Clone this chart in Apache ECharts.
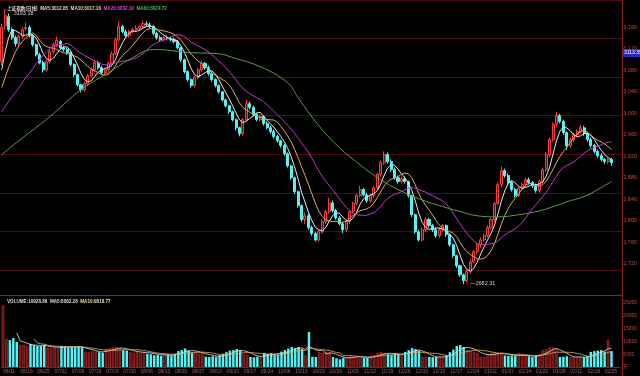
<!DOCTYPE html>
<html><head><meta charset="utf-8">
<script src="https://cdn.jsdelivr.net/npm/echarts/dist/echarts.min.js"></script>
<style>html,body{margin:0;padding:0;background:#000;}#c{width:640px;height:376px;}</style>
</head><body><div id="c"></div>
<script>
const opens = [3096,3164,3180,3156,3141,3130,3143,3158,3160,3145,3128,3109,3094,3081,3096,3115,3128,3134,3122,3119,
3113,3091,3072,3053,3044,3055,3070,3081,3094,3085,3076,3081,3093,3111,3137,3162,3152,3145,3152,3156,
3158,3162,3167,3165,3162,3149,3141,3137,3141,3139,3137,3134,3122,3100,3078,3063,3052,3067,3081,3093,
3085,3074,3063,3052,3040,3025,3014,3003,2988,2973,2962,2988,3018,3011,2998,2988,2994,2981,2973,2966,
2957,2949,2940,2925,2902,2880,2854,2828,2802,2809,2787,2776,2764,2779,2798,2817,2833,2819,2805,2794,
2783,2798,2817,2832,2847,2858,2848,2837,2847,2861,2886,2908,2923,2910,2895,2880,2873,2878,2873,2847,
2811,2779,2764,2783,2802,2791,2783,2772,2783,2791,2774,2755,2735,2716,2699,2688,2705,2723,2742,2755,
2764,2772,2787,2802,2832,2867,2893,2884,2871,2858,2847,2860,2867,2876,2871,2865,2856,2873,2895,2923,
2951,2979,2996,2985,2964,2940,2951,2960,2966,2973,2962,2951,2940,2929,2921,2914,2910,2914];
const closes = [3160,3182,3156,3141,3130,3143,3156,3160,3145,3128,3109,3094,3081,3096,3115,3128,3136,3122,3119,3113,
3091,3072,3053,3044,3055,3070,3081,3094,3085,3076,3081,3093,3111,3137,3162,3152,3145,3152,3156,3158,
3162,3167,3165,3162,3149,3141,3137,3141,3139,3137,3134,3122,3100,3078,3063,3052,3067,3081,3093,3085,
3074,3063,3052,3040,3025,3014,3003,2988,2973,2962,2988,3018,3011,2998,2988,2994,2981,2973,2966,2957,
2949,2940,2925,2902,2880,2854,2828,2802,2809,2787,2776,2764,2779,2798,2817,2833,2819,2805,2794,2783,
2798,2817,2832,2847,2858,2848,2837,2847,2861,2886,2908,2923,2910,2895,2880,2873,2878,2873,2847,2811,
2779,2764,2783,2802,2791,2783,2772,2783,2791,2774,2755,2735,2716,2699,2688,2705,2723,2742,2755,2764,
2772,2787,2802,2832,2867,2893,2884,2871,2858,2847,2860,2867,2876,2871,2865,2856,2873,2895,2923,2951,
2979,2996,2985,2964,2940,2951,2960,2966,2973,2962,2951,2940,2929,2921,2914,2910,2914,2908];
const lows = [3089,3156,3152,3137,3124,3126,3139,3154,3141,3124,3106,3091,3076,3078,3093,3111,3124,3119,3115,3109,
3087,3068,3050,3039,3040,3052,3067,3078,3081,3072,3072,3078,3089,3108,3134,3149,3141,3141,3149,3152,
3154,3158,3162,3158,3145,3137,3134,3134,3136,3134,3130,3119,3096,3074,3059,3048,3048,3063,3078,3081,
3070,3059,3048,3037,3022,3011,2999,2985,2968,2957,2958,2985,3007,2994,2985,2985,2977,2970,2962,2953,
2945,2936,2921,2899,2876,2850,2824,2798,2794,2783,2772,2761,2761,2776,2794,2813,2815,2802,2791,2777,
2779,2794,2813,2828,2843,2845,2833,2833,2843,2858,2882,2904,2906,2891,2876,2869,2869,2869,2843,2807,
2776,2761,2761,2779,2787,2779,2768,2768,2779,2770,2751,2731,2712,2695,2682.31,2684,2701,2720,2738,2749,
2761,2768,2783,2798,2828,2863,2880,2867,2854,2843,2843,2856,2863,2867,2861,2852,2852,2869,2891,2919,
2947,2975,2981,2960,2932,2936,2947,2957,2962,2958,2947,2936,2925,2917,2910,2906,2906,2902];
const highs = [3167,3193.18,3186,3160,3145,3147,3160,3169,3164,3147,3130,3113,3098,3100,3119,3132,3143,3137,3126,3122,
3115,3093,3074,3055,3059,3074,3085,3100,3098,3089,3085,3096,3115,3141,3171,3165,3156,3156,3160,3164,
3165,3173,3171,3169,3164,3152,3145,3145,3145,3143,3141,3137,3124,3102,3080,3065,3070,3085,3098,3096,
3089,3078,3065,3053,3042,3027,3016,3005,2990,2975,2992,3025,3022,3014,3001,2998,2996,2985,2977,2970,
2960,2951,2943,2927,2904,2882,2856,2830,2815,2813,2791,2779,2783,2802,2820,2843,2837,2822,2809,2798,
2802,2820,2835,2850,2865,2861,2852,2850,2865,2889,2912,2929,2927,2914,2899,2884,2882,2882,2874,2848,
2813,2783,2787,2807,2805,2794,2787,2787,2794,2793,2776,2757,2736,2718,2701,2708,2727,2746,2759,2768,
2776,2791,2805,2835,2871,2901,2897,2888,2874,2861,2863,2871,2880,2880,2874,2869,2876,2899,2927,2955,
2983,3003,2999,2988,2966,2955,2964,2970,2979,2977,2966,2955,2943,2932,2925,2917,2917,2917];
const volumes = [24000,11000,10500,11300,9800,8600,8600,8200,9000,8600,8200,8200,8600,7400,7400,7800,7400,8200,8000,7800,
8000,7800,8000,7800,6000,5900,6200,6000,5800,5600,7000,7400,7600,7800,7400,6600,6400,5900,5600,5900,
5500,5800,5200,5000,4600,4800,4400,5000,4800,4600,5200,6200,6600,7200,6400,5600,5500,5200,5600,4000,
3900,4200,4000,4600,5200,5800,6400,6600,7000,6600,5200,4800,3900,3800,4000,4200,5500,5200,5500,5000,
4800,6000,6600,7200,7800,7400,7800,7000,4600,13700,4000,3900,5900,5600,6000,5800,3900,3400,3000,3600,
3900,4300,4000,4200,3900,3500,3600,4200,4800,5600,5900,5400,5000,4800,5200,5000,4600,5900,6600,7400,
7000,6400,3900,4000,3900,3800,4000,3900,4000,4600,5800,6800,8200,8600,7800,6600,6200,5900,5500,4000,
3900,5000,5500,5900,5600,5200,4500,4400,4600,4500,4800,4400,4300,4200,4000,4400,5000,6600,7000,7600,
7800,7200,3900,4000,4200,3800,3900,3700,4000,3800,4200,5900,6200,6400,6600,6000,10500,6200];
const ma5Lead = [3081,3115,3141,3156];
const ma10Lead = [3048,3067,3085,3100,3115,3126,3134,3141,3145];
const ma20Lead = [3003,3012,3022,3031,3039,3048,3057,3067,3074,3083,3093,3100,3108,3115,3121,3124,3126,3128,3128];
const ma60Points = [[0,2923],[5,2949],[14,2994],[23,3044],[31,3076],[37,3100],[44,3119],[55,3113],[63,3111],[67,3104],
[75,3087],[83,3057],[86,3029],[92,2977],[98,2936],[104,2904],[110,2876],[115,2858],[121,2841],[127,2828],
[133,2817],[138,2809],[144,2807],[150,2811],[156,2818],[160,2826],[164,2835],[169,2845],[173,2858],[177,2873]];
const tickLabels = ['06/11','06/18','06/25','07/02','07/09','07/16','07/23','07/30','08/06','08/13','08/20','08/27',
'09/03','09/10','09/17','09/24','10/08','10/15','10/22','10/29','11/05','11/12','11/19','11/26',
'12/03','12/10','12/17','12/24','01/02','01/07','01/14','01/21','01/28','02/11','02/18','02/25'];
const SLOTS = 180;
const categories = Array.from({length: SLOTS}, (_, i) => 'D' + i);

function movingAvg(arr, n, lead) {
  return arr.map((v, i) => {
    if (i < n - 1) return lead && lead[i] !== undefined ? lead[i] : '-';
    let s = 0; for (let k = i - n + 1; k <= i; k++) s += arr[k];
    return +(s / n).toFixed(2);
  });
}
const UP_FILL = '#5e1010', UP_LINE = '#ff3c3c', DOWN = '#54f2f2';
const candleData = opens.map((o, i) => [o, closes[i], lows[i], highs[i]]);
const volData = volumes.map((v, i) => ({
  value: v,
  itemStyle: closes[i] >= opens[i] ? {color: UP_FILL, borderColor: '#c83030', borderWidth: 0.6} : {color: DOWN}
}));
const FONT = 'Liberation Sans, Arial, Noto Sans CJK SC, sans-serif';
const chart = echarts.init(document.getElementById('c'));
chart.setOption({
  backgroundColor: '#000',
  animation: false,
  textStyle: {fontFamily: FONT},
  title: [{
    left: 2, top: 1,
    text: '{w|上证指数(日线)  MA5:3012.85}  {y|MA10:3017.16}  {m|MA20:3032.19}  {g|MA60:3024.72}',
    textStyle: {fontSize: 4.6, rich: {
      w: {color: '#dcdcdc', fontSize: 4.6, fontFamily: FONT},
      y: {color: '#e8dca8', fontSize: 4.6, fontFamily: FONT},
      m: {color: '#e040e0', fontSize: 4.6, fontFamily: FONT},
      g: {color: '#44c044', fontSize: 4.6, fontFamily: FONT}
    }}
  }, {
    left: 2, top: 294,
    text: '{w|VOLUME:10928.86  MA5:8082.28}  {y|MA10:9818.77}',
    textStyle: {fontSize: 4.6, rich: {
      w: {color: '#dcdcdc', fontSize: 4.6, fontFamily: FONT},
      y: {color: '#e8dca8', fontSize: 4.6, fontFamily: FONT}
    }}
  }],
  grid: [
    {left: 0, right: 18, top: 6, height: 279},
    {left: 0, right: 18, top: -3, height: 273},
    {left: 0, right: 18, top: 303, height: 64}
  ],
  xAxis: [
    {type: 'category', gridIndex: 0, data: categories, axisLine: {show: false}, axisTick: {show: false}, axisLabel: {show: false}, splitLine: {show: false}},
    {type: 'value', gridIndex: 1, min: 0, max: 1, show: false},
    {type: 'category', gridIndex: 2, data: categories,
      axisLine: {lineStyle: {color: '#8a1c1c'}}, axisTick: {show: false}, splitLine: {show: false},
      axisLabel: {interval: (i) => i % 5 === 0, formatter: (v, i) => tickLabels[i / 5] || '',
        color: '#b85a5a', fontSize: 5, align: 'left', margin: 2}}
  ],
  yAxis: [
    {type: 'value', gridIndex: 0, position: 'right', min: 2680, max: 3200, interval: 40,
      splitLine: {show: false}, axisLine: {show: false}, axisTick: {show: false},
      axisLabel: {color: '#c04848', fontSize: 5.5, margin: 3, showMinLabel: false, showMaxLabel: false}},
    {type: 'value', gridIndex: 1, min: 0, max: 273, interval: 39,
      axisLabel: {show: false}, axisLine: {show: false}, axisTick: {show: false},
      splitLine: {show: true, lineStyle: {color: '#4e0e0e', width: 1}}},
    {type: 'value', gridIndex: 2, position: 'right', min: 0, max: 25000, interval: 5000,
      splitLine: {show: false}, axisLine: {show: false}, axisTick: {show: false},
      axisLabel: {color: '#c04848', fontSize: 5, margin: 3, formatter: (v) => v === 0 ? '万' : String(v)}}
  ],
  series: [
    {type: 'candlestick', name: 'K', xAxisIndex: 0, yAxisIndex: 0, data: candleData, barWidth: '74%',
      itemStyle: {color: UP_FILL, color0: DOWN, borderColor: UP_LINE, borderColor0: DOWN, borderWidth: 1},
      markPoint: {
        symbol: 'circle', symbolSize: 1, itemStyle: {color: '#cccccc'},
        label: {show: true, position: 'right', color: '#d0d0d0', fontSize: 5.5, fontFamily: FONT},
        data: [
          {type: 'max', valueDim: 'highest', label: {formatter: (p) => Number(p.value).toFixed(2), offset: [3, 4]}},
          {type: 'min', valueDim: 'lowest', label: {formatter: (p) => '—' + Number(p.value).toFixed(2), offset: [1, 0]}}
        ]
      }},
    {type: 'line', name: 'MA5', xAxisIndex: 0, yAxisIndex: 0, data: movingAvg(closes, 5, ma5Lead), showSymbol: false, lineStyle: {width: 1, color: '#e8e8e8'}, z: 3},
    {type: 'line', name: 'MA10', xAxisIndex: 0, yAxisIndex: 0, data: movingAvg(closes, 10, ma10Lead), showSymbol: false, lineStyle: {width: 1, color: '#e2a868'}, z: 3},
    {type: 'line', name: 'MA20', xAxisIndex: 0, yAxisIndex: 0, data: movingAvg(closes, 20, ma20Lead), showSymbol: false, lineStyle: {width: 1, color: '#c23cc8'}, z: 3},
    {type: 'line', name: 'MA60', xAxisIndex: 0, yAxisIndex: 0, data: ma60Points, smooth: 0.4, showSymbol: false, lineStyle: {width: 1, color: '#5e9c42'}, z: 3},
    {type: 'bar', name: 'VOL', xAxisIndex: 2, yAxisIndex: 2, data: volData, barWidth: '72%'},
    {type: 'line', name: 'VMA5', xAxisIndex: 2, yAxisIndex: 2, data: movingAvg(volumes, 5), showSymbol: false, lineStyle: {width: 0.8, color: '#e0e0e0'}, z: 3},
    {type: 'line', name: 'VMA10', xAxisIndex: 2, yAxisIndex: 2, data: movingAvg(volumes, 10), showSymbol: false, lineStyle: {width: 0.8, color: '#e2a868'}, z: 3}
  ],
  graphic: [
    {type: 'line', shape: {x1: 0, y1: 295.5, x2: 622, y2: 295.5}, style: {stroke: '#9a2020', lineWidth: 1}},
    {type: 'line', shape: {x1: 622.5, y1: 0, x2: 622.5, y2: 376}, style: {stroke: '#8a1c1c', lineWidth: 1}},
    {type: 'rect', shape: {x: 623, y: 49, width: 17, height: 8}, style: {fill: '#2828c8'}},
    {type: 'text', x: 624, y: 50.5, style: {text: '3113.35', fill: '#ffffff', fontSize: 5, fontFamily: FONT}}
  ]
});
</script></body></html>
